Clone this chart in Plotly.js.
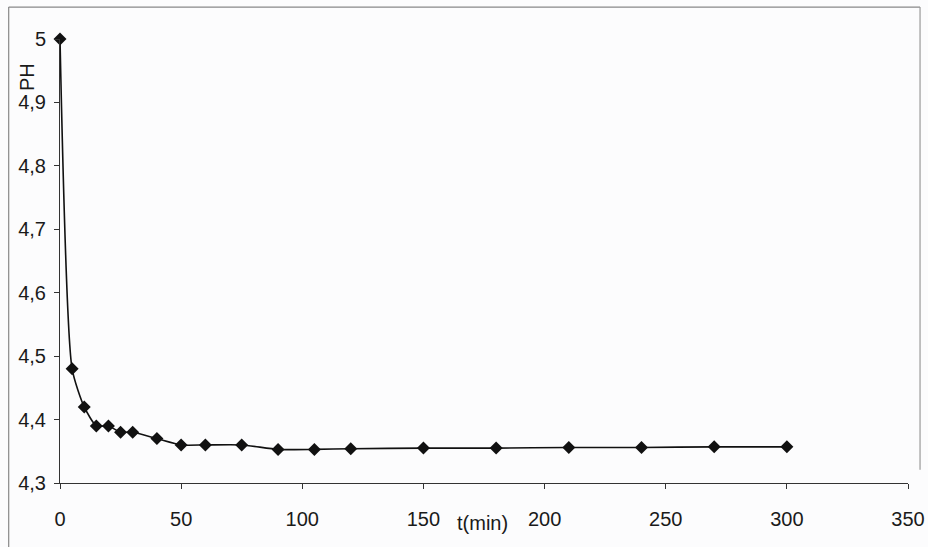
<!DOCTYPE html>
<html>
<head>
<meta charset="utf-8">
<script src="https://cdn.plot.ly/plotly-3.0.1.min.js"></script>
<style>html,body{margin:0;padding:0;background:#fcfcfd;}#chart{width:928px;height:547px;}</style>
</head>
<body>
<div id="chart"></div>
<script>
const timeMin = [0, 5, 10, 15, 20, 25, 30, 40, 50, 60, 75, 90, 105, 120, 150, 180, 210, 240, 270, 300];
const pH = [5.0, 4.48, 4.42, 4.39, 4.39, 4.38, 4.38, 4.37, 4.36, 4.36, 4.36, 4.353, 4.353, 4.354, 4.355, 4.355, 4.356, 4.356, 4.357, 4.357];
const xTickVals = [0, 50, 100, 150, 200, 250, 300, 350];
const yTickVals = [4.3, 4.4, 4.5, 4.6, 4.7, 4.8, 4.9, 5.0];
const yTickText = ['4,3', '4,4', '4,5', '4,6', '4,7', '4,8', '4,9', '5'];

const font = {family: 'Liberation Sans Narrow, Liberation Sans, Arial, sans-serif', size: 20, color: '#1a1a1a'};

const trace = {
  x: timeMin, y: pH, type: 'scatter', mode: 'lines+markers', cliponaxis: false,
  line: {color: '#111', width: 1.6, shape: 'spline', smoothing: 0.6},
  marker: {symbol: 'diamond', size: 10, color: '#111'}
};

const layout = {
  width: 928, height: 547,
  margin: {l: 60, r: 20, t: 39, b: 64},
  paper_bgcolor: '#fcfcfd', plot_bgcolor: '#fcfcfd',
  showlegend: false,
  font: font,
  xaxis: {
    range: [0, 350], tickvals: xTickVals, ticktext: xTickVals.map(String),
    showgrid: false, zeroline: false, showline: true, linecolor: '#333', linewidth: 1,
    ticks: 'outside', ticklen: 5, tickcolor: '#333', ticklabelstandoff: 13,
    tickfont: font, fixedrange: true
  },
  yaxis: {
    range: [4.3, 5.0], tickvals: yTickVals, ticktext: yTickText,
    showgrid: false, zeroline: false, showline: true, linecolor: '#333', linewidth: 1,
    ticks: 'outside', ticklen: 5, tickcolor: '#333', ticklabelstandoff: 4,
    tickfont: font, fixedrange: true
  },
  annotations: [
    {text: 't(min)', xref: 'paper', yref: 'paper', x: 0.498, y: -0.061, xanchor: 'center', yanchor: 'top', showarrow: false, font: font},
    {text: 'PH', xref: 'paper', yref: 'paper', x: -0.039, y: 0.914, xanchor: 'center', yanchor: 'middle', showarrow: false, textangle: -90, font: font}
  ],
  shapes: [
    {type: 'line', xref: 'paper', yref: 'paper', x0: -0.0605, x1: 1.0142, y0: 1.072, y1: 1.072, line: {color: '#888', width: 1.2}},
    {type: 'line', xref: 'paper', yref: 'paper', x0: -0.0605, x1: -0.0605, y0: 1.072, y1: -0.15, line: {color: '#888', width: 1.2}},
    {type: 'line', xref: 'paper', yref: 'paper', x0: 1.0142, x1: 1.0142, y0: 1.072, y1: 0.03, line: {color: '#999', width: 1.2}}
  ]
};

Plotly.newPlot('chart', [trace], layout, {displayModeBar: false, staticPlot: true});
</script>
</body>
</html>
